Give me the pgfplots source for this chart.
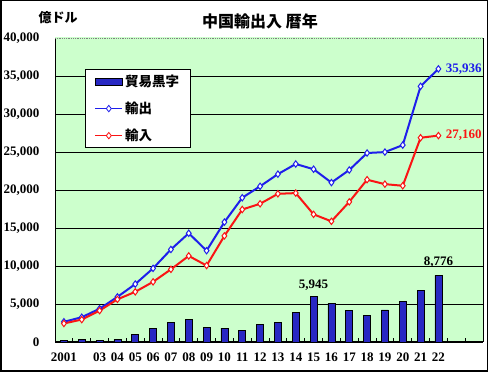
\documentclass[border=0pt]{standalone}
\usepackage{fontspec}
\setmainfont{Liberation Serif}
\newfontfamily\jp{Noto Sans CJK JP}
\usepackage{pgfplots}
\pgfplotsset{compat=1.18}
\definecolor{greenbg}{HTML}{CCFFCC}
\definecolor{barblue}{RGB}{40,40,195}
\definecolor{expblue}{RGB}{30,30,235}
\definecolor{impred}{RGB}{250,20,20}
\begin{document}
\begin{tikzpicture}
\useasboundingbox (0pt,0pt) rectangle (488pt,372pt);
\fill[white] (0pt,0pt) rectangle (488pt,372pt);
\draw[black, line width=1.5pt] (0.75pt,0.75pt) rectangle (487.25pt,371.25pt);
\begin{scope}[shift={(55pt,30pt)}]
\begin{axis}[
  at={(0pt,0pt)}, anchor=south west,
  scale only axis, width=428pt, height=304pt,
  xmin=0.5, xmax=24.5, ymin=0, ymax=40000,
  axis background/.style={fill=greenbg},
  axis x line*=bottom, axis y line*=left,
  axis line style={black, line width=1pt},
  ytick={0,5000,...,40000},
  ymajorgrids, grid style={black, line width=0.9pt},
  ytick style={draw=none},
  scaled y ticks=false,
  /pgf/number format/assume math mode=true,
  /pgf/number format/1000 sep={,},
  yticklabel style={font=\bfseries\fontsize{13}{13}\selectfont, xshift=-12pt},
  xtick={1,...,22},
  xticklabels={2001,,03,04,05,06,07,08,09,10,11,12,13,14,15,16,17,18,19,20,21,22},
  xticklabel style={font=\bfseries\fontsize{13}{13}\selectfont, yshift=-7.5pt},
  major x tick style={draw=none},
  minor xtick={0.5,1.5,...,24.5},
  minor x tick style={black, line width=0.8pt},
  minor tick length=4pt,
  tick align=inside,
  legend style={at={(axis description cs:0.0701,0.898)}, anchor=north west,
    draw=black, line width=1pt, fill=white,
    inner xsep=9pt, inner ysep=3.5pt, row sep=10pt,
    nodes={inner sep=2pt, font=\jp\bfseries\fontsize{13.5}{14}\selectfont, text=black}},
  legend cell align=left,
  clip=false,
]
\addplot[ybar, bar width=7pt, fill=barblue, draw=black, line width=0.8pt,
  legend image code/.code={\draw[fill=barblue, draw=black, line width=0.8pt] (0pt,-3.5pt) rectangle (27pt,3.5pt);}]
  coordinates {(1,225) (2,304) (3,255) (4,321) (5,1020) (6,1775) (7,2618) (8,2981) (9,1957) (10,1815) (11,1549) (12,2303) (13,2590) (14,3831) (15,5945) (16,5097) (17,4196) (18,3509) (19,4219) (20,5350) (21,6764) (22,8776)};
\addlegendentry{貿易黒字}
\addplot[expblue, line width=2pt, mark=diamond*, mark size=3.2pt,
  mark options={fill=white, draw=expblue, line width=1pt},
  legend image code/.code={\draw[expblue, line width=1.6pt] (0pt,0pt) -- (27pt,0pt); \draw[fill=white, draw=expblue, line width=0.8pt] (13.5pt,3.2pt) -- (16pt,0pt) -- (13.5pt,-3.2pt) -- (11pt,0pt) -- cycle;}]
  coordinates {(1,2661) (2,3256) (3,4382) (4,5933) (5,7620) (6,9690) (7,12178) (8,14307) (9,12016) (10,15778) (11,18984) (12,20487) (13,22090) (14,23423) (15,22735) (16,20976) (17,22633) (18,24867) (19,24990) (20,25906) (21,33640) (22,35936)};
\addlegendentry{輸出}
\addplot[impred, line width=2pt, mark=diamond*, mark size=3.2pt,
  mark options={fill=white, draw=impred, line width=1pt},
  legend image code/.code={\draw[impred, line width=1.6pt] (0pt,0pt) -- (27pt,0pt); \draw[fill=white, draw=impred, line width=0.8pt] (13.5pt,3.2pt) -- (16pt,0pt) -- (13.5pt,-3.2pt) -- (11pt,0pt) -- cycle;}]
  coordinates {(1,2436) (2,2952) (3,4128) (4,5612) (5,6600) (6,7915) (7,9561) (8,11326) (9,10059) (10,13962) (11,17435) (12,18184) (13,19500) (14,19592) (15,16796) (16,15879) (17,18438) (18,21357) (19,20771) (20,20556) (21,26876) (22,27160)};
\addlegendentry{輸入}
\draw[greenbg, line width=1.2pt] (rel axis cs:0,1) -- (rel axis cs:1,1);
\draw[gray, densely dotted, line width=0.8pt] (rel axis cs:0,1) -- (rel axis cs:1,1);
\draw[black, line width=1pt] (rel axis cs:1,0) -- (rel axis cs:1,1);
\node[anchor=south, yshift=2.5pt, font=\bfseries\fontsize{13}{13}\selectfont] at (axis cs:15,5945) {5,945};
\node[anchor=south, yshift=4.5pt, font=\bfseries\fontsize{13}{13}\selectfont] at (axis cs:22,8776) {8,776};
\node[anchor=west, xshift=4pt, text=expblue, font=\bfseries\fontsize{13}{13}\selectfont] at (axis cs:22,35936) {35,936};
\node[anchor=west, xshift=4pt, text=impred, font=\bfseries\fontsize{13}{13}\selectfont] at (axis cs:22,27160) {27,160};
\end{axis}
\end{scope}
\node[font=\jp\bfseries\fontsize{16}{16}\selectfont] at (260pt,351pt) {中国輸出入 暦年};
\node[font=\jp\bfseries\fontsize{13}{13}\selectfont] at (58pt,354pt) {億ドル};
\end{tikzpicture}
\end{document}
